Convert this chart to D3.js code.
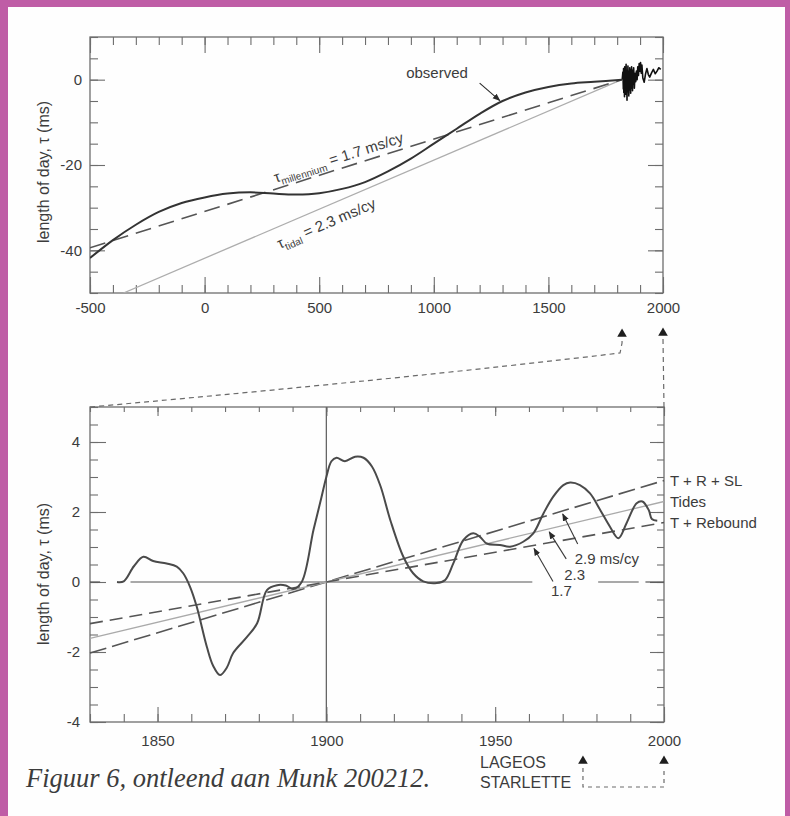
<!DOCTYPE html>
<html><head><meta charset="utf-8">
<script src="https://cdn.jsdelivr.net/npm/d3@7"></script>
<style>
body{margin:0;background:#fff}
svg{display:block}
text{font-family:"Liberation Sans",Arial,Helvetica,sans-serif;fill:#3c3c3c}
</style></head>
<body><svg id="c" width="790" height="816"></svg>
<script>
// ---------- DATA: upper panel (millennium) ----------
const topYears    = [-500,-400,-300,-200,-100,0,100,200,300,400,500,600,700,800,900,1000,1100,1200,1300,1400,1500,1600,1700,1820];
const topObserved = [-41.8,-37.6,-34.0,-31.0,-28.9,-27.6,-26.7,-26.4,-26.7,-26.9,-26.6,-25.6,-24.0,-21.5,-18.5,-15.0,-11.5,-8.0,-5.0,-3.0,-1.7,-0.9,-0.5,0];
const noiseYears  = [1822,1825,1827,1828,1829,1831,1832,1833,1835,1836,1837,1839,1840,1841,1843,1844,1845,1847,1848,1849,1851,1852,1853,1855,1856,1857,1859,1860,1861,1863,1864,1865,1867,1868,1870,1872,1875,1878,1881,1884,1887,1890,1893,1896,1899,1902,1905,1908,1912,1918,1924,1930,1936,1942,1950,1958,1966,1974,1982,1990];
const noiseValues = [0,1.8,-2.2,2.6,-3.0,1.2,-4.0,3.0,-1.6,2.4,-3.4,3.6,-2.2,1.4,-4.8,2.2,-1.5,3.2,-2.8,0.6,-3.8,2.0,-1.2,2.8,-2.4,1.0,-3.2,2.4,-0.8,3.0,-2.0,1.2,-2.6,2.2,-1.0,2.8,-2.0,1.5,-0.5,2.0,0.0,3.0,1.0,3.8,2.0,4.0,1.5,3.4,0.4,-0.6,1.4,2.6,1.2,0.6,1.6,2.4,1.4,2.0,2.8,2.4];
const topTrendNames = ["millennium","tidal"];
const topTrendRates = ["1.7","2.3"];
const topTrendX = [[-500,1820],[-354,1820]];
const topTrendY = [[-39.4,0],[-50,0]];
const topXTicks = [-500,0,500,1000,1500,2000];
const topYTicks = [-40,-20,0];

// ---------- DATA: lower panel (1830-2000) ----------
const lodYears  = [1838,1840,1843,1845.8,1848.7,1852.7,1855.7,1857.6,1859.6,1861.6,1864.6,1866.5,1868.5,1870.5,1872.4,1876.5,1879.5,1882.4,1885.4,1888,1890.2,1892.7,1896.2,1898.5,1900,1901.5,1903,1905.5,1908.5,1911,1913.5,1916,1919,1922.8,1925.7,1928.7,1932.7,1935.2,1937.6,1940.6,1943.5,1945.5,1947.5,1951.4,1954.4,1958.3,1961.3,1964.3,1967.2,1970.2,1972.2,1975.1,1978.1,1981.1,1984,1986.5,1988.9,1991.9,1993.6,1995.5,1996.4,1998];
const lodValues = [0.0,0.02,0.45,0.72,0.6,0.53,0.44,0.25,-0.13,-0.7,-1.85,-2.4,-2.66,-2.45,-2.03,-1.57,-1.18,-0.23,-0.09,-0.1,-0.2,0.0,1.49,2.4,3.0,3.45,3.55,3.45,3.58,3.55,3.3,2.75,1.75,0.72,0.25,0.02,-0.03,0.06,0.53,1.2,1.39,1.29,1.1,1.06,1.01,1.15,1.39,1.96,2.44,2.77,2.84,2.77,2.53,2.06,1.58,1.25,1.68,2.25,2.3,2.05,1.8,1.75];
const trendLabels     = ["T + R + SL","Tides","T + Rebound"];
const trendRateLabels = ["2.9 ms/cy","2.3","1.7"];
const trendX = [[1830,2000],[1830,2000],[1830,2000]];
const trendY = [[-2.03,2.9],[-1.61,2.3],[-1.19,1.7]];
const arrowTipYears = [1970,1966,1961.5];
const zeroSegments = [[1830,1833],[1842,1961],[1980.5,1992.5],[1994.5,2000]];
const botXTicks = [1850,1900,1950,2000];
const botYTicks = [-4,-2,0,2,4];
const satLabels = ["LAGEOS","STARLETTE"];
const satYears  = [1976,2000];
const caption = "Figuur 6, ontleend aan Munk 200212.";

// ---------- DRAW ----------
const svg = d3.select("#c");
svg.append("rect").attr("width",790).attr("height",816).attr("fill","#bf5da6");
svg.append("rect").attr("x",8).attr("y",7).attr("width",777).attr("height",809).attr("fill","#fefefe");

const defs = svg.append("defs");
defs.append("marker").attr("id","ah").attr("viewBox","0 0 10 10").attr("refX",9).attr("refY",5)
  .attr("markerWidth",7).attr("markerHeight",7).attr("orient","auto-start-reverse")
  .append("path").attr("d","M0,1 L10,5 L0,9 Z").attr("fill","#2a2a2a");

const fmt = d => String(d).replace("\u2212","-");
const FRAME = "#6d6d6d";

function panel(x, y, xMinor, xMajor, yMinor, yMajor, opt) {
  const g = svg.append("g");
  const [x0,x1] = x.range(), [y0,y1] = y.range();
  const ax = (axis, tx, ty) => {
    const a = g.append("g").attr("transform",`translate(${tx},${ty})`).call(axis);
    a.select(".domain").remove();
    a.selectAll("line").attr("stroke",FRAME).attr("stroke-width",1.1);
    a.selectAll("text").attr("font-size",15).attr("fill","#3c3c3c").style("font-family","'Liberation Sans',Arial,sans-serif");
    return a;
  };
  ax(d3.axisLeft(y).tickValues(yMinor).tickSize(-opt.lm).tickFormat(""), x0, 0);
  ax(d3.axisRight(y).tickValues(yMinor).tickSize(-opt.rm).tickFormat(""), x1, 0);
  ax(d3.axisBottom(x).tickValues(xMinor).tickSize(-opt.bm).tickFormat(""), 0, y0);
  ax(d3.axisTop(x).tickValues(xMinor).tickSize(-opt.tm).tickFormat(""), 0, y1);
  ax(d3.axisLeft(y).tickValues(yMajor).tickSize(-opt.lM).tickPadding(opt.lp).tickFormat(fmt), x0, 0);
  ax(d3.axisRight(y).tickValues(yMajor).tickSize(-opt.rM).tickFormat(""), x1, 0);
  ax(d3.axisBottom(x).tickValues(xMajor).tickSize(-opt.bM).tickPadding(opt.bp).tickFormat(fmt), 0, y0);
  ax(d3.axisTop(x).tickValues(xMajor).tickSize(-opt.tM).tickFormat(""), 0, y1);
  g.append("rect").attr("x",x0).attr("y",y1).attr("width",x1-x0).attr("height",y0-y1)
    .attr("fill","none").attr("stroke",FRAME).attr("stroke-width",1.3);
  return g;
}

// ----- upper panel -----
const xT = d3.scaleLinear([-500,2000],[90,663]);
const yT = d3.scaleLinear([-50,10],[293,37]);
const gT = panel(xT, yT, d3.range(-500,2001,100), topXTicks, d3.range(-50,11,5), topYTicks,
  {lm:8,rm:8,bm:8,tm:8,lM:15,rM:15,bM:16,tM:16,lp:8,bp:9});

defs.append("clipPath").attr("id","clipT").append("rect")
  .attr("x",90).attr("y",37).attr("width",573).attr("height",256);
const cT = gT.append("g").attr("clip-path","url(#clipT)");

const lineT = d3.line().x(d=>xT(d[0])).y(d=>yT(d[1]));
cT.append("path").attr("d",lineT(d3.zip(topTrendX[1],topTrendY[1])))
  .attr("fill","none").attr("stroke","#adadad").attr("stroke-width",1.3);
cT.append("path").attr("d",lineT(d3.zip(topTrendX[0],topTrendY[0])))
  .attr("fill","none").attr("stroke","#555").attr("stroke-width",1.6).attr("stroke-dasharray","16,8");
cT.append("path").attr("d",lineT.curve(d3.curveCatmullRom)(d3.zip(topYears,topObserved)))
  .attr("fill","none").attr("stroke","#333").attr("stroke-width",2);
lineT.curve(d3.curveLinear);
cT.append("path").attr("d",lineT(d3.zip(noiseYears,noiseValues)))
  .attr("fill","none").attr("stroke","#111").attr("stroke-width",1.6).attr("stroke-linejoin","round");

function slantLabel(g, xs, ys, xa, ya, startYear, dy, name, rate) {
  const v = t => ya[0] + (ya[1]-ya[0])*(t-xa[0])/(xa[1]-xa[0]);
  const px = xs(startYear), py = ys(v(startYear));
  const ang = Math.atan2(ys(v(startYear+1000))-py, xs(startYear+1000)-px)*180/Math.PI;
  const t = g.append("text").attr("transform",`translate(${px},${py}) rotate(${ang})`)
    .attr("y",dy).attr("font-size",15);
  t.append("tspan").text("\u03c4");
  t.append("tspan").attr("font-size",10).attr("dy",4).text(name);
  t.append("tspan").attr("dy",-4).text(` = ${rate} ms/cy`);
}
slantLabel(gT, xT, yT, topTrendX[0], topTrendY[0], 318, -6, topTrendNames[0], topTrendRates[0]);
slantLabel(gT, xT, yT, topTrendX[1], topTrendY[1], 292, 21, topTrendNames[1], topTrendRates[1]);

gT.append("text").attr("x",xT(1014)).attr("y",yT(0.4)).attr("text-anchor","middle")
  .attr("font-size",15).text("observed");
gT.append("line").attr("x1",xT(1200)).attr("y1",yT(-0.8)).attr("x2",xT(1288)).attr("y2",yT(-4.9))
  .attr("stroke","#2a2a2a").attr("stroke-width",1.1).attr("marker-end","url(#ah)");

gT.append("text").attr("transform",`translate(43,172) rotate(-90)`).attr("text-anchor","middle")
  .attr("dominant-baseline","central").attr("font-size",16).text("length of day, \u03c4 (ms)");

// ----- lower panel -----
const xB = d3.scaleLinear([1830,2000],[90,664]);
const yB = d3.scaleLinear([-4,5],[722,407]);
const gB = panel(xB, yB, d3.range(1830,2001,10), botXTicks, d3.range(-4,5.01,0.5), botYTicks,
  {lm:8,rm:7,bm:8,tm:5,lM:16,rM:14,bM:15,tM:9,lp:10,bp:13});

const lineB = d3.line().x(d=>xB(d[0])).y(d=>yB(d[1]));
zeroSegments.forEach(s => gB.append("path").attr("d",lineB([[s[0],0],[s[1],0]]))
  .attr("stroke","#555").attr("stroke-width",1.2));
gB.append("line").attr("x1",xB(1900)).attr("x2",xB(1900)).attr("y1",yB(5)).attr("y2",yB(-4))
  .attr("stroke","#666").attr("stroke-width",1.3);

const trendStyle = [{c:"#555",w:1.6,d:"17,6"},{c:"#aaa",w:1.3,d:null},{c:"#555",w:1.6,d:"13,7"}];
trendLabels.forEach((lab,i) => {
  const p = gB.append("path").attr("d",lineB(d3.zip(trendX[i],trendY[i])))
    .attr("fill","none").attr("stroke",trendStyle[i].c).attr("stroke-width",trendStyle[i].w);
  if (trendStyle[i].d) p.attr("stroke-dasharray",trendStyle[i].d);
  gB.append("text").attr("x",xB(2000)+6).attr("y",yB(trendY[i][1])).attr("dominant-baseline","central")
    .attr("font-size",15).text(lab);
});

gB.append("path").attr("d",lineB.curve(d3.curveCatmullRom)(d3.zip(lodYears,lodValues)))
  .attr("fill","none").attr("stroke","#4a4a4a").attr("stroke-width",2);
lineB.curve(d3.curveLinear);

const tailOff = [[15,30],[17,27],[19,33]];
const textOff = [[12,50],[15,48],[17,48]];
trendRateLabels.forEach((lab,i) => {
  const t = arrowTipYears[i];
  const v = trendY[i][0] + (trendY[i][1]-trendY[i][0])*(t-trendX[i][0])/(trendX[i][1]-trendX[i][0]);
  const tx = xB(t), ty = yB(v)+3;
  gB.append("line").attr("x1",tx+tailOff[i][0]).attr("y1",ty+tailOff[i][1]).attr("x2",tx).attr("y2",ty)
    .attr("stroke","#3a3a3a").attr("stroke-width",1.1).attr("marker-end","url(#ah)");
  gB.append("text").attr("x",tx+textOff[i][0]).attr("y",ty+textOff[i][1]).attr("font-size",15).text(lab);
});

gB.append("text").attr("transform",`translate(43,574) rotate(-90)`).attr("text-anchor","middle")
  .attr("dominant-baseline","central").attr("font-size",16).text("length of day, \u03c4 (ms)");

// ----- connectors -----
const tri = d3.symbol().type(d3.symbolTriangle).size(40);
const conn = svg.append("g").attr("fill","none").attr("stroke","#6a6a6a").attr("stroke-width",1.2).attr("stroke-dasharray","5,4");
const ax1830 = xT(1830), axY = yT(-50);
conn.append("path").attr("d",
  `M${xB(1830)},${yB(5)} Q${(xB(1830)+ax1830)/2+45},${yB(5)-28} ${ax1830-4},${axY+60} L${ax1830-2},${axY+50} L${ax1830-2},${axY+47}`);
conn.append("path").attr("d",`M${xT(2000)},${axY+46} L${xB(2000)},${yB(5)}`);
svg.append("path").attr("d",tri).attr("transform",`translate(${ax1830-2},${axY+41})`).attr("fill","#1e1e1e");
svg.append("path").attr("d",tri).attr("transform",`translate(${xT(2000)},${axY+40})`).attr("fill","#1e1e1e");

const sy = yB(-4);
svg.append("text").attr("x",480).attr("y",sy+46).attr("font-size",16).text(satLabels[0]);
svg.append("text").attr("x",480).attr("y",sy+66).attr("font-size",16).text(satLabels[1]);
satYears.forEach(yr => svg.append("path").attr("d",tri).attr("transform",`translate(${xB(yr)},${sy+39})`).attr("fill","#1e1e1e"));
const conn2 = svg.append("g").attr("fill","none").attr("stroke","#6a6a6a").attr("stroke-width",1.2).attr("stroke-dasharray","4,4");
conn2.append("path").attr("d",`M${xB(satYears[0])},${sy+46} L${xB(satYears[0])},${sy+65} L${xB(satYears[1])},${sy+65} L${xB(satYears[1])},${sy+46}`);

svg.append("text").attr("x",26).attr("y",787).attr("font-size",26.5)
  .style("font-family","'Liberation Serif','Times New Roman',serif").style("font-style","italic")
  .attr("fill","#1e1e1e").text(caption);
</script></body></html>
